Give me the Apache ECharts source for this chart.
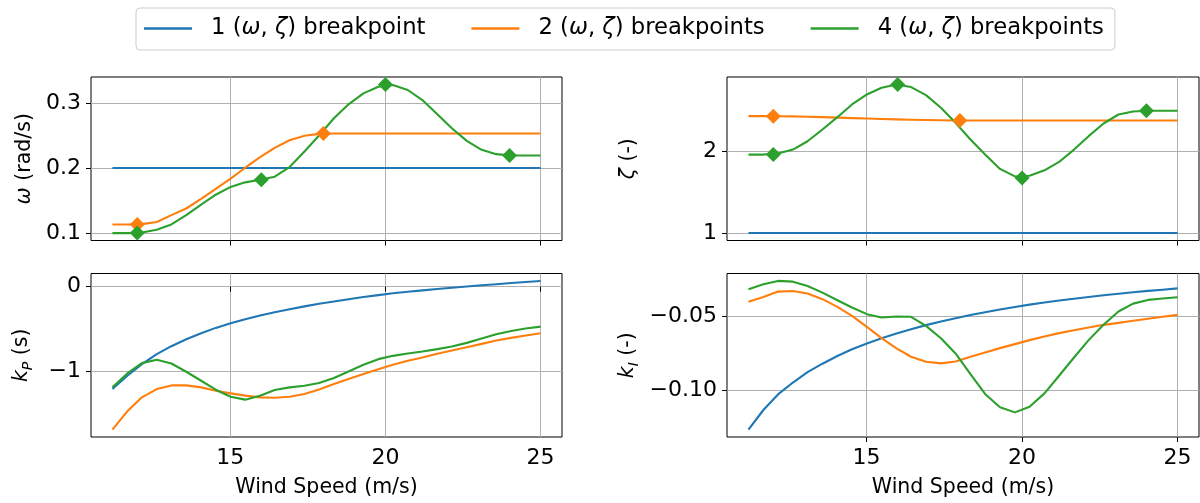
<!DOCTYPE html>
<html><head><meta charset="utf-8">
<script src="https://cdn.jsdelivr.net/npm/echarts@6/dist/echarts.min.js"></script>
<style>html,body{margin:0;padding:0;background:#fff}#c{width:1200px;height:503px}</style>
</head><body><div id="c"></div>
<script>
// ---------------- data ----------------
const windSpeed = [11.2, 11.68, 12.15, 12.63, 13.1, 13.58, 14.06, 14.53, 15.01, 15.48, 15.96, 16.43, 16.91, 17.39, 17.86, 18.34, 18.81, 19.29, 19.77, 20.24, 20.72, 21.19, 21.67, 22.14, 22.62, 23.1, 23.57, 24.05, 24.52, 25.0];

const seriesNames = ['1 (ω, ζ) breakpoint', '2 (ω, ζ) breakpoints', '4 (ω, ζ) breakpoints'];

const omega1 = [0.2,0.2,0.2,0.2,0.2,0.2,0.2,0.2,0.2,0.2,0.2,0.2,0.2,0.2,0.2,0.2,0.2,0.2,0.2,0.2,0.2,0.2,0.2,0.2,0.2,0.2,0.2,0.2,0.2,0.2];
const omega2 = [0.1133,0.1133,0.1138,0.117,0.1276,0.1378,0.1526,0.168,0.1837,0.2005,0.2168,0.231,0.2428,0.2497,0.2526,0.2531,0.2531,0.2531,0.2531,0.2531,0.2531,0.2531,0.2531,0.2531,0.2531,0.2531,0.2531,0.2531,0.2531,0.2531];
const omega4 = [0.1,0.1,0.101,0.105,0.1133,0.1276,0.1439,0.159,0.171,0.178,0.182,0.1867,0.2015,0.2255,0.25,0.2765,0.298,0.3148,0.325,0.3276,0.32,0.3046,0.2827,0.2612,0.2418,0.228,0.2214,0.2194,0.2194,0.2194];
const omegaBp2X = [12, 18];
const omegaBp2Y = [0.1133, 0.2531];
const omegaBp4X = [12, 16, 20, 24];
const omegaBp4Y = [0.1, 0.182, 0.3286, 0.2194];

const zeta1 = [1,1,1,1,1,1,1,1,1,1,1,1,1,1,1,1,1,1,1,1,1,1,1,1,1,1,1,1,1,1];
const zeta2 = [2.429,2.429,2.428,2.426,2.422,2.417,2.411,2.405,2.399,2.394,2.389,2.385,2.381,2.378,2.376,2.3755,2.3755,2.3755,2.3755,2.3755,2.3755,2.3755,2.3755,2.3755,2.3755,2.3755,2.3755,2.3755,2.3755,2.3755];
const zeta4 = [1.959,1.959,1.971,2.02,2.122,2.265,2.416,2.571,2.694,2.776,2.816,2.784,2.686,2.531,2.347,2.143,1.959,1.784,1.692,1.700,1.767,1.869,2.02,2.184,2.339,2.449,2.486,2.494,2.494,2.494];
const zetaBp2X = [12, 18];
const zetaBp2Y = [2.4286, 2.3755];
const zetaBp4X = [12, 16, 20, 24];
const zetaBp4Y = [1.959, 2.816, 1.673, 2.494];

const kP1 = [-1.208,-1.051,-0.914,-0.796,-0.702,-0.620,-0.549,-0.486,-0.431,-0.384,-0.341,-0.301,-0.265,-0.232,-0.202,-0.174,-0.147,-0.122,-0.099,-0.078,-0.060,-0.043,-0.027,-0.012,0.003,0.017,0.030,0.043,0.056,0.068];
const kP2 = [-1.686,-1.471,-1.306,-1.208,-1.165,-1.165,-1.188,-1.227,-1.259,-1.286,-1.306,-1.310,-1.298,-1.267,-1.212,-1.149,-1.090,-1.031,-0.973,-0.922,-0.875,-0.835,-0.792,-0.753,-0.714,-0.675,-0.635,-0.604,-0.576,-0.549];
const kP4 = [-1.188,-1.024,-0.902,-0.863,-0.906,-1.004,-1.110,-1.216,-1.298,-1.333,-1.286,-1.220,-1.188,-1.169,-1.137,-1.078,-1.0,-0.922,-0.855,-0.816,-0.788,-0.765,-0.737,-0.706,-0.663,-0.612,-0.561,-0.522,-0.494,-0.471];

const kI1 = [-0.1262,-0.1130,-0.1025,-0.0945,-0.0875,-0.0818,-0.0766,-0.0721,-0.0682,-0.0647,-0.0615,-0.0586,-0.0558,-0.0534,-0.0511,-0.0490,-0.0471,-0.0453,-0.0436,-0.0420,-0.0406,-0.0392,-0.0380,-0.0368,-0.0357,-0.0346,-0.0336,-0.0327,-0.0319,-0.0310];
const kI2 = [-0.0401,-0.0368,-0.0332,-0.0328,-0.0345,-0.0383,-0.0435,-0.0496,-0.0570,-0.0646,-0.0715,-0.0771,-0.0805,-0.0816,-0.0803,-0.0771,-0.0742,-0.0713,-0.0686,-0.0659,-0.0635,-0.0612,-0.0592,-0.0574,-0.0556,-0.0543,-0.0529,-0.0515,-0.0502,-0.0489];
const kI4 = [-0.0316,-0.0283,-0.0260,-0.0265,-0.0294,-0.0339,-0.0390,-0.0439,-0.0484,-0.0507,-0.0500,-0.0502,-0.0563,-0.0646,-0.0749,-0.0888,-0.1022,-0.1112,-0.1146,-0.1108,-0.1018,-0.0899,-0.0776,-0.0659,-0.0556,-0.0466,-0.0413,-0.0388,-0.0379,-0.0370];

// tick labels
const xTicks = [15, 20, 25];
const omegaTicks = [0.1, 0.2, 0.3];
const zetaTicks = [1, 2];
const kPTicks = [-1, 0];
const kITicks = [-0.10, -0.05];

// ---------------- chart ----------------
const FONT = 'DejaVu Sans';
const COLORS = ['#1f77b4', '#ff7f0e', '#2ca02c'];
const minus = s => s.replace('-', '\u2212');

const grids = [
  {left: 91, top: 77, width: 471, height: 163.5},
  {left: 727, top: 77, width: 472, height: 163.5},
  {left: 91, top: 273.5, width: 471, height: 163.5},
  {left: 727, top: 273.5, width: 472, height: 163.5}
].map(g => Object.assign(g, {show: true, borderColor: '#000', borderWidth: 1, backgroundColor: 'transparent', containLabel: false}));

function xAxis(gi, bottom) {
  return {
    type: 'value', gridIndex: gi, min: 10.51, max: 25.69,
    axisLine: {show: false},
    axisTick: {show: true, customValues: xTicks, length: 5, lineStyle: {color: '#000', width: 1}},
    axisLabel: {show: bottom, customValues: xTicks, formatter: v => String(v), fontSize: 22, color: '#000', fontFamily: FONT, margin: 10},
    splitLine: {show: true, lineStyle: {color: '#b0b0b0', width: 1}},
    name: bottom ? 'Wind Speed (m/s)' : '', nameLocation: 'middle', nameGap: 40,
    nameTextStyle: {fontSize: 20.5, color: '#000', fontFamily: FONT}
  };
}
function yAxis(gi, min, max, ticks, fmt, name, gap) {
  return {
    type: 'value', gridIndex: gi, min: min, max: max,
    axisLine: {show: false},
    axisTick: {show: true, customValues: ticks, length: 5, lineStyle: {color: '#000', width: 1}},
    axisLabel: {customValues: ticks, formatter: fmt, fontSize: 22, color: '#000', fontFamily: FONT, margin: 10},
    splitLine: {show: true, lineStyle: {color: '#b0b0b0', width: 1}},
    name: name, nameLocation: 'middle', nameGap: gap, nameRotate: 90,
    nameTextStyle: {fontSize: 20.5, color: '#000', fontFamily: FONT,
      rich: {i: {fontStyle: 'italic', fontSize: 20.5, fontFamily: FONT, color: '#000'},
             s: {fontStyle: 'italic', fontSize: 14, fontFamily: FONT, color: '#000', verticalAlign: 'bottom', padding: [12, 0, 0, 0]},
             n: {fontSize: 20.5, fontFamily: FONT, color: '#000'}}}
  };
}

const pairs = (xs, ys) => xs.map((x, i) => [x, ys[i]]);

const panels = [
  [omega1, omega2, omega4],
  [zeta1, zeta2, zeta4],
  [kP1, kP2, kP4],
  [kI1, kI2, kI4]
];
const series = [];
panels.forEach((arrs, gi) => {
  arrs.forEach((arr, k) => {
    series.push({
      type: 'line', name: seriesNames[k], xAxisIndex: gi, yAxisIndex: gi,
      data: pairs(windSpeed, arr), symbol: 'none', showSymbol: false,
      lineStyle: {width: 2.1, color: COLORS[k], join: 'round'}, itemStyle: {color: COLORS[k]},
      z: 2 + k, silent: true
    });
  });
});
const markerSets = [
  [0, 1, omegaBp2X, omegaBp2Y], [0, 2, omegaBp4X, omegaBp4Y],
  [1, 1, zetaBp2X, zetaBp2Y], [1, 2, zetaBp4X, zetaBp4Y]
];
markerSets.forEach(([gi, k, xs, ys]) => {
  series.push({
    type: 'scatter', name: 'bp' + gi + '_' + k, xAxisIndex: gi, yAxisIndex: gi,
    data: pairs(xs, ys), symbol: 'diamond', symbolSize: 15,
    itemStyle: {color: COLORS[k], opacity: 1}, z: 6, silent: true
  });
});

const legendFmt = name => {
  const n = name.split(' ')[0];
  const tail = name.indexOf('breakpoints') >= 0 ? 'breakpoints' : 'breakpoint';
  return '{g|}' + n + ' ({i|ω}, {i|ζ}) ' + tail;
};

const option = {
  animation: false,
  backgroundColor: '#fff',
  textStyle: {fontFamily: FONT},
  legend: {
    data: seriesNames, left: 136, top: 8, padding: [9, 11, 10, 8], itemGap: 46,
    itemWidth: 48, itemHeight: 2.6, icon: 'rect', borderColor: '#cccccc', borderWidth: 1, borderRadius: 4,
    backgroundColor: '#fff', selectedMode: false,
    formatter: legendFmt,
    textStyle: {fontSize: 22.7, color: '#000', fontFamily: FONT,
      rich: {g: {width: 14}, i: {fontStyle: 'italic', fontSize: 22.7, fontFamily: FONT, color: '#000'}}}
  },
  grid: grids,
  xAxis: [xAxis(0, false), xAxis(1, false), xAxis(2, true), xAxis(3, true)],
  yAxis: [
    yAxis(0, 0.0886, 0.34, omegaTicks, v => v.toFixed(1), '{i|ω}{n| (rad/s)}', 56),
    yAxis(1, 0.909, 2.907, zetaTicks, v => String(Math.round(v)), '{i|ζ}{n| (-)}', 88),
    yAxis(2, -1.774, 0.156, kPTicks, v => minus(String(Math.round(v))), '{i|k}{s|P}{n| (s)}', 56),
    yAxis(3, -0.1312, -0.021, kITicks, v => minus(v.toFixed(2)), '{i|k}{s|I}{n| (-)}', 86)
  ],
  series: series
};
const chart = echarts.init(document.getElementById('c'), null, {renderer: 'canvas'});
chart.setOption(option);
</script></body></html>
